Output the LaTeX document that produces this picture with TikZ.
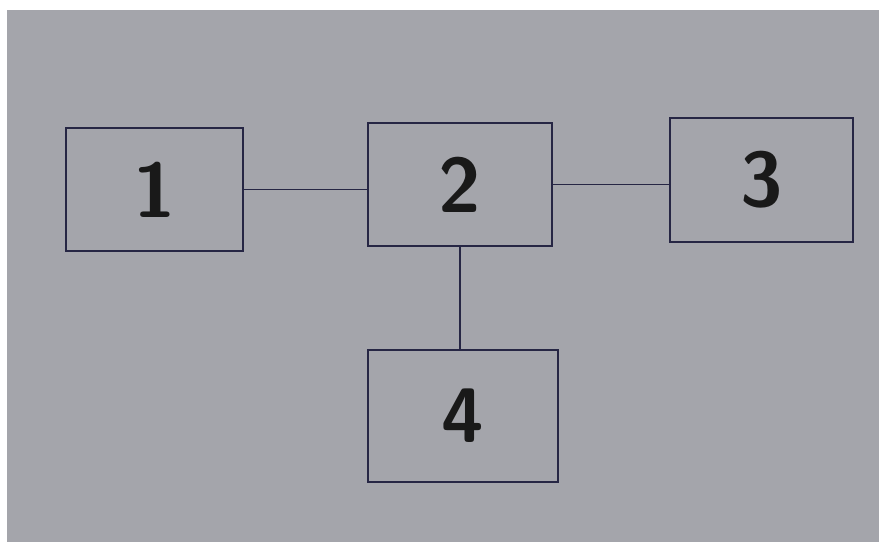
\documentclass[tikz,border=0pt]{standalone}
\usepackage{xcolor}
\usepackage{tikz}
\definecolor{paper}{RGB}{164,165,171}
\definecolor{ink}{RGB}{38,38,68}
\begin{document}
\begin{tikzpicture}[
    x=0.02cm,y=-0.02cm,
    blk/.style={rectangle,draw=ink,line width=1pt,inner sep=0pt,
                text=black!90,font=\sffamily\bfseries\fontsize{44}{48}\selectfont},
    wire/.style={draw=ink,line width=0.9pt}
  ]
    \fill[white] (0,0) rectangle (879,542);
    \fill[paper] (7,10) rectangle (879,542);
    \useasboundingbox (0,0) rectangle (879,542);
    \node[blk,minimum width=177*0.02cm,minimum height=123*0.02cm] (b1) at (154.5,189.5) {1};
    \node[blk,minimum width=184*0.02cm,minimum height=123*0.02cm] (b2) at (460,184.5) {2};
    \node[blk,minimum width=183*0.02cm,minimum height=124*0.02cm] (b3) at (761.5,180) {3};
    \node[blk,minimum width=190*0.02cm,minimum height=132*0.02cm] (b4) at (463,416) {4};
    \draw[wire] (b1.east) -- (b1.east -| b2.west);
    \draw[wire] (b2.east) -- (b2.east -| b3.west);
    \draw[wire] (b2.south) -- (b2.south |- b4.north);
  \end{tikzpicture}
\end{document}
